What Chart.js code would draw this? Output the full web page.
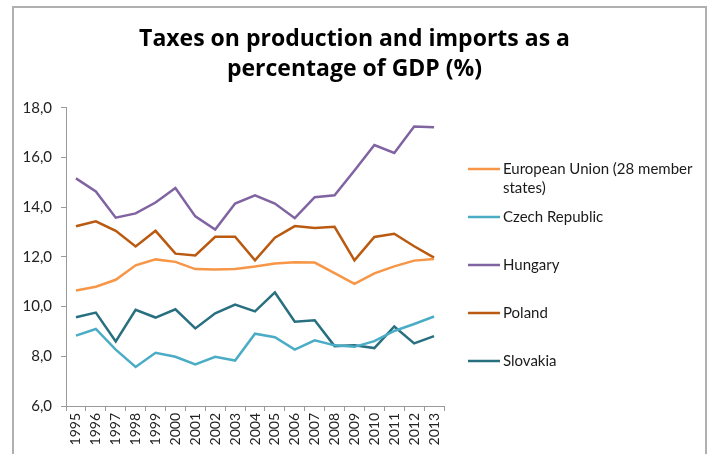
<!DOCTYPE html>
<html>
<head>
<meta charset="utf-8">
<script src="https://cdn.jsdelivr.net/npm/chart.js@4.4.1/dist/chart.umd.min.js"></script>
<style>
  html, body { margin: 0; padding: 0; background: #fff; }
  #wrap { position: relative; width: 709px; height: 454px; overflow: hidden; }
  #frame {
    position: absolute; left: 12px; top: 6px; width: 691px; height: 470px;
    border: 2px solid #b0b0b0; border-bottom: none; pointer-events: none;
  }
  canvas { position: absolute; left: 0; top: 0; }
</style>
</head>
<body>
<div id="wrap">
  <canvas id="chart" width="709" height="454"></canvas>
  <div id="frame"></div>
</div>
<script>
// Years on the category axis
const years = ['1995','1996','1997','1998','1999','2000','2001','2002','2003','2004',
               '2005','2006','2007','2008','2009','2010','2011','2012','2013'];

// Taxes on production and imports, % of GDP
const euValues = [10.65, 10.80, 11.08, 11.66, 11.90, 11.80, 11.51, 11.49, 11.51, 11.61,
                  11.73, 11.78, 11.77, 11.35, 10.92, 11.34, 11.62, 11.85, 11.92];
const czechValues = [8.83, 9.10, 8.27, 7.57, 8.14, 7.98, 7.67, 7.98, 7.83, 8.91,
                     8.77, 8.27, 8.64, 8.44, 8.38, 8.61, 9.02, 9.30, 9.60];
const hungaryValues = [15.16, 14.63, 13.58, 13.75, 14.19, 14.77, 13.63, 13.10, 14.15, 14.48,
                       14.15, 13.56, 14.40, 14.48, 15.48, 16.50, 16.18, 17.25, 17.22];
const polandValues = [13.23, 13.43, 13.05, 12.42, 13.05, 12.13, 12.06, 12.81, 12.81, 11.86,
                      12.77, 13.24, 13.16, 13.21, 11.86, 12.80, 12.93, 12.43, 11.97];
const slovakiaValues = [9.57, 9.76, 8.60, 9.87, 9.56, 9.89, 9.12, 9.73, 10.08, 9.81,
                        10.57, 9.39, 9.45, 8.41, 8.44, 8.33, 9.20, 8.52, 8.81];

// Value axis ticks
const yTicks = [6, 8, 10, 12, 14, 16, 18];

const FONT = 'Lato, "Open Sans", sans-serif';
const TITLE_FONT = '"Open Sans", Lato, sans-serif';

// Legend on the right: line swatch plus label, labels wrapped to the available width
const sideLegend = {
  id: 'sideLegend',
  afterDraw(chart) {
    const ctx = chart.ctx;
    const x0 = 468, swatch = 32, textX = 503, maxW = 195;
    const firstY = 169, step = 48, lineGap = 19;
    ctx.save();
    ctx.font = '15px ' + FONT;
    ctx.textBaseline = 'middle';
    ctx.textAlign = 'left';
    chart.data.datasets.forEach((ds, i) => {
      const y = firstY + i * step;
      ctx.strokeStyle = ds.borderColor;
      ctx.lineWidth = 2.5;
      ctx.beginPath();
      ctx.moveTo(x0, y);
      ctx.lineTo(x0 + swatch, y);
      ctx.stroke();
      // wrap label words
      const words = ds.label.split(' ');
      const lines = [];
      let cur = '';
      words.forEach(w => {
        const test = cur ? cur + ' ' + w : w;
        if (ctx.measureText(test).width > maxW && cur) { lines.push(cur); cur = w; }
        else cur = test;
      });
      if (cur) lines.push(cur);
      ctx.fillStyle = '#1a1a1a';
      lines.forEach((ln, k) => ctx.fillText(ln, textX, y + k * lineGap));
    });
    ctx.restore();
  }
};

const mkSet = (label, data, color) => ({
  label, data,
  borderColor: color, backgroundColor: color,
  borderWidth: 2.5, pointRadius: 0, pointHoverRadius: 0,
  tension: 0, fill: false
});

new Chart(document.getElementById('chart'), {
  type: 'line',
  data: {
    labels: years,
    datasets: [
      mkSet('European Union (28 member states)', euValues, '#F79646'),
      mkSet('Czech Republic', czechValues, '#4BACC6'),
      mkSet('Hungary', hungaryValues, '#8064A2'),
      mkSet('Poland', polandValues, '#BA5A10'),
      mkSet('Slovakia', slovakiaValues, '#286F80')
    ]
  },
  options: {
    responsive: false,
    animation: false,
    layout: { padding: { left: 0, right: 0, top: 0, bottom: 0 } },
    plugins: {
      legend: { display: false },
      tooltip: { enabled: false },
      title: {
        display: true,
        text: ['Taxes on production and imports as a', 'percentage of GDP (%)'],
        color: '#000',
        font: { family: TITLE_FONT, size: 23, weight: 'bold', lineHeight: 1.3 },
        padding: { top: 25, bottom: 23 }
      }
    },
    scales: {
      x: {
        type: 'category',
        offset: true,
        grid: { display: true, offset: true, drawOnChartArea: false, drawTicks: true,
                tickLength: 5, color: '#9a9a9a', lineWidth: 1 },
        border: { display: true, color: '#9a9a9a', width: 1 },
        ticks: { autoSkip: false, minRotation: 90, maxRotation: 90, padding: 2,
                 color: '#222', font: { family: FONT, size: 14 } },
        afterFit(s) { s.height = 48; }
      },
      y: {
        type: 'linear',
        min: 6, max: 18,
        afterBuildTicks(s) { s.ticks = yTicks.map(v => ({ value: v })); },
        grid: { display: true, drawOnChartArea: false, drawTicks: true,
                tickLength: 5, color: '#9a9a9a', lineWidth: 1 },
        border: { display: true, color: '#9a9a9a', width: 1 },
        ticks: { padding: 9, color: '#222', font: { family: FONT, size: 15 },
                 callback: v => v.toFixed(1).replace('.', ',') },
        afterFit(s) { s.width = 66; }
      },
      // empty right-hand strip that reserves room for the legend
      legendSpace: {
        type: 'linear',
        position: 'right',
        display: true,
        grid: { display: false },
        border: { display: false },
        ticks: { display: false },
        afterFit(s) { s.width = 265; }
      }
    }
  },
  plugins: [sideLegend]
});
</script>
</body>
</html>
